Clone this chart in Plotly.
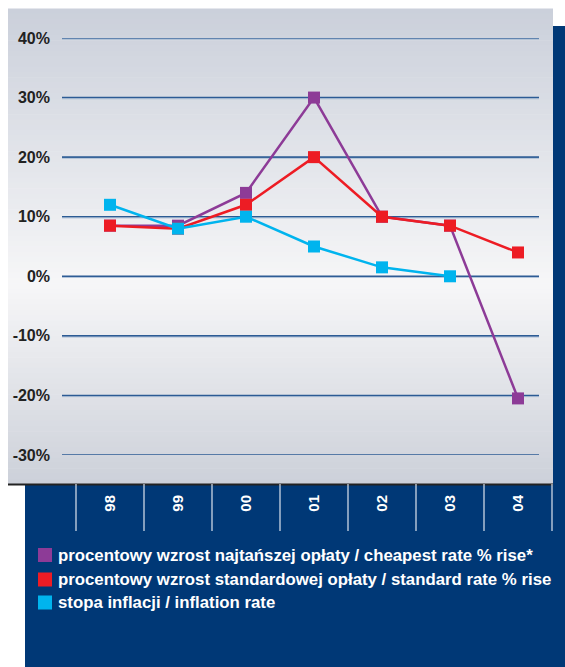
import plotly.graph_objects as go

# ---- data -------------------------------------------------------------
years = ["98", "99", "00", "01", "02", "03", "04"]
cheapest_rise = [8.5, 8.5, 14, 30, 10, 8.5, -20.5]
standard_rise = [8.5, 8, 12, 20, 10, 8.5, 4]
inflation = [12, 8, 10, 5, 1.5, 0, None]
y_ticks = [40, 30, 20, 10, 0, -10, -20, -30]

series_names = [
    "procentowy wzrost najtańszej opłaty / cheapest rate % rise*",
    "procentowy wzrost standardowej opłaty / standard rate % rise",
    "stopa inflacji / inflation rate",
]
series_colors = ["#8d3b97", "#ed1c24", "#00b4ee"]

# ---- canvas geometry (pixels) -----------------------------------------
W, H = 565, 667
NAVY = "#003876"
FONT = "Liberation Sans, Arial, sans-serif"


def px(x):
    return x / W


def py(y):
    return 1 - y / H


fig = go.Figure()

for name, vals, col in zip(series_names, [cheapest_rise, standard_rise, inflation], series_colors):
    fig.add_trace(go.Scatter(
        x=list(range(len(years))), y=vals, name=name, mode="lines+markers",
        line=dict(color=col, width=2.5),
        marker=dict(symbol="square", size=12, color=col),
        showlegend=False, cliponaxis=False,
    ))

shapes = []

# grey panel with vertical gradient: darker at top/bottom, near white around 0%
top_c = (203, 208, 219)
mid_c = (247, 247, 248)
bot_c = (205, 209, 218)
y_top, y_mid, y_bot = 8.5, 285, 484
n = 90
for i in range(n):
    ya = y_top + (y_bot - y_top) * i / n
    yb = y_top + (y_bot - y_top) * (i + 1) / n + 0.6
    yc = (ya + yb) / 2
    if yc < y_mid:
        t = (yc - y_top) / (y_mid - y_top)
        c = [a + (b - a) * t for a, b in zip(top_c, mid_c)]
    else:
        t = (yc - y_mid) / (y_bot - y_mid)
        c = [a + (b - a) * t for a, b in zip(mid_c, bot_c)]
    shapes.append(dict(type="rect", xref="paper", yref="paper", layer="below",
                       x0=px(8), x1=px(553), y0=py(yb), y1=py(ya),
                       fillcolor="rgb(%d,%d,%d)" % tuple(int(v) for v in c),
                       line=dict(width=0)))

# navy frame: right strip and bottom block
shapes.append(dict(type="rect", xref="paper", yref="paper", layer="below",
                   x0=px(553), x1=1, y0=0, y1=py(26), fillcolor=NAVY, line=dict(width=0)))
shapes.append(dict(type="rect", xref="paper", yref="paper", layer="below",
                   x0=px(25), x1=1, y0=0, y1=py(485), fillcolor=NAVY, line=dict(width=0)))
# dark edge under the grey panel
shapes.append(dict(type="line", xref="paper", yref="paper", layer="below",
                   x0=px(8), x1=px(553), y0=py(484.5), y1=py(484.5),
                   line=dict(color="#222222", width=2)))

# gridlines: dark blue with a pale highlight beneath
for v in y_ticks:
    shapes.append(dict(type="line", xref="paper", yref="y", layer="below",
                       x0=px(62), x1=px(539), y0=v, y1=v,
                       line=dict(color="#2c5b94", width=1.6)))
    shapes.append(dict(type="line", xref="paper", yref="y", layer="below",
                       x0=px(62), x1=px(539), y0=v - 0.2, y1=v - 0.2,
                       line=dict(color="rgba(150,175,205,0.7)", width=1)))

# white dividers between year columns
for i in range(len(years) + 1):
    shapes.append(dict(type="line", xref="x", yref="paper", layer="above",
                       x0=i - 0.5, x1=i - 0.5, y0=py(484), y1=py(531),
                       line=dict(color="#dde4ee", width=1.2)))

annotations = []
# legend rows
legend_rows_y = [555, 579.5, 602.5]
for name, col, yy in zip(series_names, series_colors, legend_rows_y):
    shapes.append(dict(type="rect", xref="paper", yref="paper", layer="above",
                       x0=px(38), x1=px(52), y0=py(yy + 7), y1=py(yy - 7),
                       fillcolor=col, line=dict(width=0)))
    annotations.append(dict(xref="paper", yref="paper", x=px(56), y=py(yy),
                            xanchor="left", yanchor="middle", showarrow=False,
                            text="<b>%s</b>" % name,
                            font=dict(family=FONT, size=16.8, color="white")))

x_lo, x_hi = 62, 557
fig.update_layout(
    width=W, height=H,
    margin=dict(l=0, r=0, t=0, b=0, pad=0),
    paper_bgcolor="white", plot_bgcolor="rgba(0,0,0,0)",
    shapes=shapes, annotations=annotations,
    xaxis=dict(
        domain=[px(x_lo), px(x_hi)],
        range=[(x_lo - 110) / 68, (x_hi - 110) / 68],
        tickmode="array", tickvals=list(range(len(years))), ticktext=["<b>%s</b>" % y for y in years],
        tickangle=-90, showgrid=False, zeroline=False, showline=False, ticks="",
        anchor="free", position=py(484), ticklabelstandoff=7, automargin=False,
        tickfont=dict(family=FONT, size=15, color="white"),
    ),
    yaxis=dict(
        domain=[py(455), py(38)],
        range=[-30, 40],
        tickmode="array", tickvals=y_ticks, ticktext=["<b>%d%%</b>" % v for v in y_ticks],
        showgrid=False, zeroline=False, showline=False, ticks="",
        ticklabelstandoff=11, automargin=False,
        tickfont=dict(family=FONT, size=16, color="#222222"),
    ),
    hovermode=False,
)

fig.write_html("out.html")
